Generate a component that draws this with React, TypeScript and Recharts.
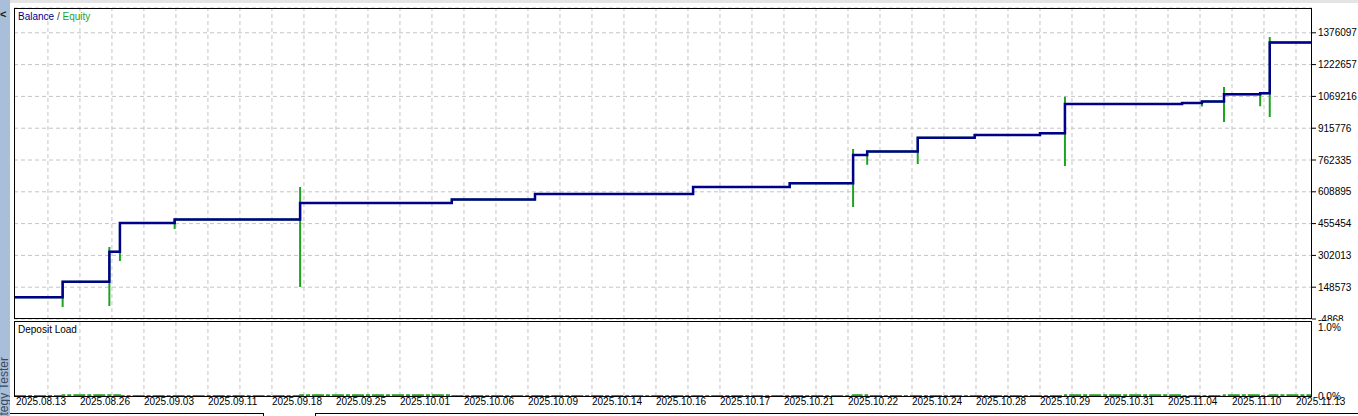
import { LineChart, Line, XAxis, YAxis, CartesianGrid, ReferenceLine } from "recharts"

// x positions are in "date label" units: label k sits at x = k
const dateLabels = [
  "2025.08.13", "2025.08.26", "2025.09.03", "2025.09.11", "2025.09.18", "2025.09.25",
  "2025.10.01", "2025.10.06", "2025.10.09", "2025.10.14", "2025.10.16", "2025.10.17",
  "2025.10.21", "2025.10.22", "2025.10.24", "2025.10.28", "2025.10.29", "2025.10.31",
  "2025.11.04", "2025.11.10", "2025.11.13",
]
const labelTicks = dateLabels.map((_, i) => i)
const gridTicks = Array.from({ length: 40 }, (_, i) => (i + 1) * 0.5)

const balanceTicks = [-4868, 148573, 302013, 455454, 608895, 762335, 915776, 1069216, 1222657, 1376097]
const loadTicks = [0, 1]

const tradeX = [-0.03, 0.73, 1.46, 1.625, 2.48, 4.44, 6.81, 8.11, 10.58, 12.09, 13.08, 13.3, 14.09, 14.98, 16.0, 16.39, 18.22, 18.53, 18.875, 19.44, 19.59, 20.25]
const balance = [100000, 175000, 320000, 458000, 475000, 555000, 572000, 598000, 632000, 650000, 787000, 803000, 870000, 883000, 891000, 1033000, 1038000, 1045000, 1080000, 1085000, 1329000, 1329000]
const equityLow = [null, 53500, 58000, 275000, 430000, 150000, null, null, null, null, 536000, 739000, 743000, null, null, 734000, null, 1020000, 946000, 1022000, 970000, null]
const equityHigh = [null, null, 343000, null, null, 632000, null, null, null, null, 816000, null, null, null, null, 1067000, null, null, 1115000, null, 1356000, null]
const depositLoad = [0, 0.01, 0.01, 0, 0, 0.01, 0, 0, 0, 0, 0.01, 0, 0, 0, 0, 0.01, 0, 0, 0.01, 0, 0.01, 0]

const balanceData = tradeX.map((x, i) => ({ x, y: balance[i] }))
const equityData: { x: number; y: number }[] = [{ x: tradeX[0], y: balance[0] }]
tradeX.forEach((x, i) => {
  if (i === 0) return
  equityData.push({ x, y: balance[i - 1] })
  if (equityLow[i] != null) equityData.push({ x, y: equityLow[i] as number })
  if (equityHigh[i] != null) equityData.push({ x, y: equityHigh[i] as number })
  equityData.push({ x, y: balance[i] })
})
const loadData = tradeX.map((x, i) => ({ x, y: depositLoad[i] }))

const FONT = "'Liberation Sans', Arial, sans-serif"
const BALANCE = "#00008b"
const EQUITY = "#1fa31f"
const GRID = "#c4c4c4"
const xDomain = [-0.03, 20.25]

const DateTick = (props: any) => {
  const { x, y, payload } = props
  return (
    <text x={x} y={y} dy="0.71em" textAnchor="start" fontSize={10} fill="#000" fontFamily={FONT}>
      {dateLabels[payload.value]}
    </text>
  )
}

const NoTick = () => <g />

const gridLines = () =>
  gridTicks.map((t) => (
    <ReferenceLine key={t} x={t} stroke={GRID} strokeDasharray="4 3" strokeWidth={1} />
  ))

export default function App() {
  return (
    <div style={{ position: "relative", width: 1358, height: 416, background: "#fff", overflow: "hidden", fontFamily: FONT }}>
      <style>{`body{margin:0}`}</style>

      {/* left tester strip */}
      <div style={{ position: "absolute", left: 0, top: 0, width: 1358, height: 3, background: "#e4e4e4" }} />
      <div style={{ position: "absolute", left: 0, top: 0, width: 10, height: 416, background: "#a9bfd9", overflow: "hidden" }}>
        <svg width={10} height={416}>
          <text x={0} y={18} fontSize={11} fontWeight="bold" fill="#1a1a1a" fontFamily={FONT}>&lt;</text>
          <text transform="rotate(-90)" x={-357} y={8} textAnchor="end" fontSize={12} fill="#3a4a60" fontFamily={FONT}>
            Strategy Tester
          </text>
        </svg>
      </div>

      {/* balance / equity panel */}
      <div style={{ position: "absolute", left: 0, top: 0 }}>
        <LineChart width={1358} height={321} margin={{ top: 8, right: 0, left: 14, bottom: 1 }}>
          <CartesianGrid stroke={GRID} strokeDasharray="4 3" vertical={false} />
          {gridLines()}
          <XAxis
            dataKey="x"
            type="number"
            domain={xDomain}
            allowDataOverflow
            ticks={gridTicks}
            interval={0}
            height={1}
            tick={NoTick}
            tickLine={false}
            axisLine={false}
          />
          <YAxis
            orientation="right"
            width={46}
            type="number"
            domain={[-4868, 1495800]}
            allowDataOverflow
            ticks={balanceTicks}
            interval={0}
            tickSize={4}
            tickMargin={2}
            tickLine={{ stroke: "#000" }}
            axisLine={false}
            tick={{ fontSize: 10, fill: "#000", fontFamily: FONT, textAnchor: "start" }}
            tickFormatter={(v: number) => String(v)}
          />
          <Line data={equityData} dataKey="y" type="linear" stroke={EQUITY} strokeWidth={2} dot={false} isAnimationActive={false} />
          <Line data={balanceData} dataKey="y" type="stepAfter" stroke={BALANCE} strokeWidth={2.5} dot={false} isAnimationActive={false} />
        </LineChart>
      </div>
      <div style={{ position: "absolute", left: 14, top: 8, width: 1298, height: 311, border: "1px solid #000", boxSizing: "border-box", pointerEvents: "none" }} />
      <div style={{ position: "absolute", left: 18, top: 11, fontSize: 10, whiteSpace: "nowrap" }}>
        <span style={{ color: BALANCE }}>Balance</span>
        <span style={{ color: "#333" }}> / </span>
        <span style={{ color: EQUITY }}>Equity</span>
      </div>

      {/* deposit load panel */}
      <div style={{ position: "absolute", left: 0, top: 321 }}>
        <LineChart width={1358} height={95} margin={{ top: 0, right: 0, left: 14, bottom: 0 }}>
          {gridLines()}
          <XAxis
            dataKey="x"
            type="number"
            domain={xDomain}
            allowDataOverflow
            ticks={gridTicks}
            interval={0}
            height={1}
            tick={NoTick}
            tickLine={false}
            axisLine={false}
          />
          <XAxis
            xAxisId="labels"
            dataKey="x"
            type="number"
            domain={xDomain}
            allowDataOverflow
            ticks={labelTicks}
            interval={0}
            height={19}
            tickSize={0}
            tickMargin={1}
            tickLine={false}
            axisLine={false}
            tick={<DateTick />}
          />
          <YAxis
            orientation="right"
            width={46}
            type="number"
            domain={[0, 1.087]}
            allowDataOverflow
            ticks={loadTicks}
            interval={0}
            tickSize={0}
            tickMargin={6}
            tickLine={false}
            axisLine={false}
            tick={{ fontSize: 10, fill: "#000", fontFamily: FONT, textAnchor: "start" }}
            tickFormatter={(v: number) => `${v.toFixed(1)}%`}
          />
          <Line data={loadData} dataKey="y" type="stepAfter" stroke={EQUITY} strokeWidth={2} strokeDasharray="12 2 4 2" dot={false} isAnimationActive={false} />
        </LineChart>
      </div>
      <div style={{ position: "absolute", left: 14, top: 321, width: 1298, height: 76, border: "1px solid #000", boxSizing: "border-box", pointerEvents: "none" }} />
      <div style={{ position: "absolute", left: 18, top: 324, fontSize: 10, color: "#000" }}>Deposit Load</div>

      {/* bottom tabs edge */}
      <div style={{ position: "absolute", left: 10, top: 413, width: 253, height: 4, borderTop: "1px solid #000", borderRight: "1px solid #000" }} />
      <div style={{ position: "absolute", left: 315, top: 413, width: 1043, height: 4, borderTop: "1px solid #000", borderLeft: "1px solid #000" }} />
    </div>
  )
}
